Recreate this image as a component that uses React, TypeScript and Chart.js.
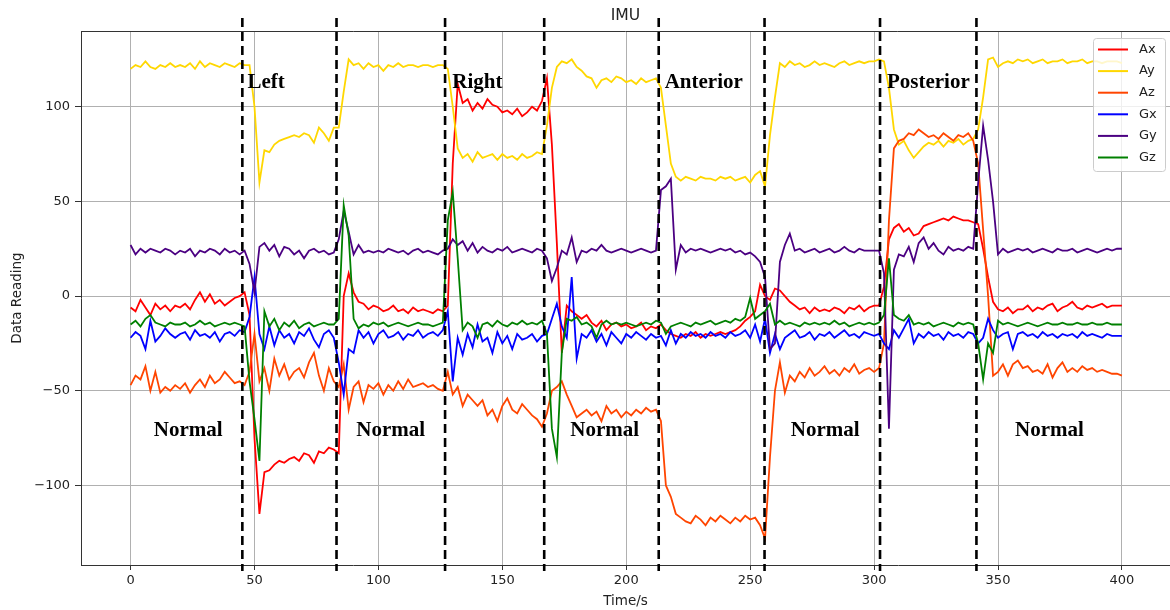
import React, { useEffect, useRef } from 'react';
import { Chart, registerables } from 'chart.js';

Chart.register(...registerables);

// sample grid: one sample every 2 s from 0 to 400 s
const times: number[] = [];
for (let i = 0; i <= 200; i++) times.push(i * 2);

const seriesNames = ['Ax', 'Ay', 'Az', 'Gx', 'Gy', 'Gz'];
const seriesColors = ['#ff0000', '#ffd700', '#ff4500', '#0000ff', '#4b0082', '#008000'];

const ax = [
  -6, -8, -2, -6, -10, -4, -7, -5, -8, -5,
  -6, -4, -7, -2, 2, -3, 1, -4, -2, -5,
  -3, -1, 0, 2, -10, -75, -115, -93, -92, -89,
  -87, -88, -86, -85, -87, -83, -84, -88, -82, -83,
  -80, -81, -83, 0, 12, 2, -3, -4, -7, -5,
  -6, -8, -7, -5, -8, -7, -9, -6, -8, -7,
  -8, -9, -7, -8, -5, 70, 112, 102, 104, 98,
  102, 99, 104, 101, 100, 97, 98, 96, 99, 95,
  97, 100, 98, 103, 115, 80, 28, -30, -5, -8,
  -10, -12, -10, -14, -16, -13, -18, -15, -14, -16,
  -15, -17, -16, -14, -18, -16, -17, -15, -18, -20,
  -21, -22, -20, -21, -19, -22, -20, -21, -20, -19,
  -20, -19, -18, -16, -13, -11, -8, 6, 0, -2,
  4, 3, 0, -3, -5, -7, -6, -9, -6, -8,
  -7, -8, -6, -7, -9, -6, -7, -5, -8, -6,
  -5, -5, 5, 30, 36, 38, 34, 36, 32, 33,
  37, 38, 39, 40, 41, 40, 42, 41, 40, 40,
  39, 38, 25, 10, -3, -7, -8, -6, -9, -7,
  -7, -5, -8, -6, -7, -5, -4, -8, -6, -5,
  -3, -6, -7, -5, -6, -5, -4, -6, -5, -5,
  -5,
];

const ay = [
  120, 122, 121, 124, 121, 120, 122, 121, 123, 121,
  122, 121, 123, 120, 124, 121, 123, 122, 121, 123,
  122, 121, 123, 122, 122, 100, 60, 77, 76, 80,
  82, 83, 84, 85, 84, 86, 85, 81, 89, 86,
  82, 89, 89, 108, 125, 122, 123, 120, 123, 121,
  122, 119, 122, 121, 123, 121, 122, 122, 121, 122,
  122, 121, 122, 122, 120, 100, 78, 73, 75, 71,
  76, 73, 74, 75, 72, 75, 73, 74, 72, 75,
  73, 74, 76, 75, 90, 110, 121, 124, 123, 125,
  121, 119, 116, 115, 110, 114, 115, 113, 116, 115,
  113, 114, 112, 115, 113, 114, 115, 110, 90, 70,
  63, 61, 63, 62, 61, 63, 62, 62, 61, 63,
  62, 63, 61, 62, 63, 60, 64, 66, 58, 85,
  105, 123, 121, 124, 122, 123, 121, 122, 124, 122,
  123, 122, 121, 123, 124, 122, 123, 124, 123, 124,
  124, 125, 124, 110, 88, 80, 82, 77, 73, 76,
  79, 81, 80, 82, 79, 82, 81, 83, 80, 82,
  83, 88, 105, 125, 126, 121, 123, 124, 123, 125,
  124, 125, 123, 124, 125, 123, 124, 124, 125, 123,
  124, 124, 125, 123, 124, 124, 123, 124, 124, 124,
  123,
];

const az = [
  -47, -42, -44, -37, -50, -40, -51, -48, -50, -47,
  -49, -46, -51, -47, -44, -48, -42, -46, -44, -40,
  -43, -46, -45, -47, -40, -20, -45, -38, -50, -33,
  -42, -36, -44, -40, -38, -43, -35, -30, -42, -50,
  -38, -45, -48, -36, -60, -48, -45, -56, -47, -49,
  -46, -52, -47, -50, -45, -49, -44, -48, -47, -46,
  -48, -47, -49, -50, -40, -52, -48, -58, -52, -55,
  -58, -55, -63, -60, -66, -58, -54, -60, -62, -57,
  -60, -63, -65, -69, -62, -50, -48, -45, -52, -58,
  -64, -62, -60, -63, -61, -66, -58, -62, -60, -64,
  -61, -63, -60, -62, -59, -61, -60, -66, -100, -106,
  -115, -117, -119, -120, -116, -118, -121, -117, -119, -116,
  -118, -120, -117, -119, -116, -118, -117, -121, -128, -85,
  -50, -35, -51, -42, -45, -40, -43, -38, -42, -40,
  -37, -41, -39, -42, -38, -40, -36, -41, -39, -38,
  -40, -38, -25, 40, 78, 82, 83, 86, 85, 88,
  86, 84, 85, 83, 86, 84, 82, 85, 84, 86,
  82, 70, 35, 0, -42, -40, -36, -42, -36, -34,
  -38, -37, -40, -39, -41, -36, -43, -38, -35, -40,
  -38, -40, -37, -39, -38, -40, -39, -40, -41, -41,
  -42,
];

const gx = [
  -22, -19, -21, -28, -13, -24, -21, -17, -20, -22,
  -20, -19, -23, -18, -21, -20, -22, -19, -24, -20,
  -19, -21, -18, -19, -11, 10, -20, -28, -16, -26,
  -18, -22, -20, -25, -19, -21, -17, -23, -27, -20,
  -18, -22, -35, -52, -28, -30, -18, -22, -19, -25,
  -20, -18, -22, -21, -19, -23, -20, -21, -18, -22,
  -20, -19, -21, -18, -8, -45, -22, -31, -20, -27,
  -15, -24, -22, -30, -19, -25, -21, -28, -20, -23,
  -22, -20, -24, -21, -20, -12, -4, -16, -22, 10,
  -33, -20, -22, -18, -24, -20, -26, -19, -22, -25,
  -20, -22, -19, -21, -23, -20, -22, -21, -26, -18,
  -25, -20, -22, -19, -21, -20, -22, -19, -21, -20,
  -22, -19, -21, -20, -18, -22, -15, -24, -12, -30,
  -20, -28, -22, -20, -18, -22, -21, -19, -23, -20,
  -21, -19, -22, -20, -18, -21, -20, -22, -19, -20,
  -21, -20, -25, -28, -18, -22, -17, -12, -25, -20,
  -22, -19, -21, -20, -23, -19, -21, -20, -22, -19,
  -20, -25, -22, -12, -18, -22, -20, -19, -28, -20,
  -19, -21, -20, -22, -19, -21, -20, -22, -20, -21,
  -20, -22, -19, -21, -20, -21, -22, -20, -21, -21,
  -21,
];

const gy = [
  27, 22, 25, 23, 25, 24, 23, 25, 24, 22,
  24, 23, 25, 21, 24, 23, 25, 24, 22, 25,
  23, 24, 22, 24, 17, 2, 26, 28, 24, 27,
  21, 26, 25, 22, 24, 20, 24, 25, 23, 24,
  22, 23, 30, 45, 34, 22, 27, 23, 24, 23,
  24, 23, 25, 24, 23, 24, 22, 24, 25, 23,
  24, 23, 22, 24, 25, 30, 27, 29, 24, 28,
  23, 26, 24, 23, 25, 24, 26, 23, 24, 25,
  24, 23, 25, 24, 20, 8, 15, 24, 22, 31,
  18, 24, 23, 25, 24, 27, 24, 23, 24, 25,
  24, 23, 24, 25, 24, 23, 24, 56, 58, 62,
  14, 27, 23, 25, 24, 25, 24, 23, 24, 25,
  24, 25, 23, 24, 22, 23, 21, 18, 10, -28,
  -25, 18, 27, 33, 24, 25, 23, 24, 25, 23,
  24, 25, 23, 24, 26, 24, 23, 25, 24, 24,
  24, 24, 12, -70, 14, 22, 21, 26, 18, 28,
  31, 25, 28, 24, 22, 26, 24, 25, 24, 26,
  25, 60, 90, 72, 50, 22, 25, 23, 24, 25,
  24, 25, 23, 24, 25, 24, 23, 25, 24, 24,
  25, 23, 24, 25, 24, 23, 24, 25, 24, 25,
  25,
];

const gz = [
  -15, -13, -16, -12, -10, -14, -15, -16, -14, -15,
  -15, -14, -16, -15, -13, -15, -14, -16, -15, -14,
  -15, -14, -15, -16, -45, -65, -87, -8, -16, -12,
  -18, -14, -16, -13, -17, -15, -14, -16, -15, -14,
  -15, -15, -12, 48, 32, -12, -17, -15, -16, -14,
  -15, -14, -16, -15, -14, -15, -16, -15, -14, -15,
  -15, -16, -15, -14, 40, 55, 20, -18, -14, -16,
  -22, -15, -14, -16, -13, -15, -16, -14, -15, -13,
  -15, -14, -15, -13, -20, -70, -85, -30, -12, -13,
  -11, -15, -14, -16, -22, -15, -13, -15, -14, -15,
  -14, -15, -16, -15, -14, -15, -13, -14, -20, -16,
  -15, -14, -15, -16, -14, -15, -14, -13, -15, -14,
  -13, -14, -12, -13, -11, -1, -12, -10, -8, -4,
  -15, -13, -15, -14, -15, -16, -14, -15, -14, -15,
  -14, -15, -13, -15, -14, -16, -15, -14, -15, -14,
  -15, -14, -10, 20, -10, -12, -13, -10, -15, -14,
  -15, -14, -16, -15, -14, -15, -16, -14, -15, -14,
  -15, -25, -44, -25, -30, -13, -15, -14, -15, -16,
  -15, -14, -15, -16, -15, -14, -15, -15, -14, -15,
  -15, -14, -15, -15, -14, -15, -15, -14, -15, -15,
  -15,
];

const seriesValues = [ax, ay, az, gx, gy, gz];

const xTicks = [0, 50, 100, 150, 200, 250, 300, 350, 400];
const yTicks = [-100, -50, 0, 50, 100];

// phase boundaries (s) marked by dashed lines
const phaseBoundaries = [45.1, 83.1, 126.9, 166.9, 213.1, 255.8, 302.4, 341.3];
// phase annotations: text, time (s), value
const phaseLabelText = ['Left', 'Right', 'Anterior', 'Posterior', 'Normal', 'Normal', 'Normal', 'Normal', 'Normal'];
const phaseLabelTime = [47.2, 129.8, 215.5, 305.2, 9.4, 91.1, 177.4, 266.4, 356.9];
const phaseLabelValue = [110, 110, 110, 110, -73.8, -73.8, -73.8, -73.8, -73.8];

const fmt = (v: number) => (v < 0 ? '\u2212' + Math.abs(v) : String(v));

const TICK_FONT = { family: "'DejaVu Sans', sans-serif", size: 13 };

const overlay = {
  id: 'overlay',
  afterDatasetsDraw(chart: any) {
    const { ctx, chartArea, scales } = chart;
    const { left, right, top, bottom } = chartArea;
    ctx.save();
    // top spine
    ctx.strokeStyle = '#333';
    ctx.lineWidth = 1;
    ctx.beginPath();
    ctx.moveTo(left, top + 0.5);
    ctx.lineTo(right, top + 0.5);
    ctx.stroke();

    // dashed phase boundaries
    ctx.strokeStyle = '#000';
    ctx.lineWidth = 2.6;
    ctx.setLineDash([9, 5]);
    phaseBoundaries.forEach((t) => {
      const x = scales.x.getPixelForValue(t);
      ctx.beginPath();
      ctx.moveTo(x, top - 13);
      ctx.lineTo(x, bottom + 6);
      ctx.stroke();
    });
    ctx.setLineDash([]);

    // phase labels
    ctx.fillStyle = '#000';
    ctx.font = "bold 21px 'Times New Roman', 'Liberation Serif', serif";
    ctx.textAlign = 'left';
    ctx.textBaseline = 'alphabetic';
    phaseLabelText.forEach((txt, i) => {
      ctx.fillText(txt, scales.x.getPixelForValue(phaseLabelTime[i]), scales.y.getPixelForValue(phaseLabelValue[i]));
    });

    // legend
    const bx = right - 77;
    const by = top + 7;
    const bw = 72;
    const bh = 133;
    ctx.fillStyle = 'rgba(255,255,255,0.8)';
    ctx.strokeStyle = '#cccccc';
    ctx.lineWidth = 1;
    ctx.beginPath();
    (ctx as any).roundRect(bx + 0.5, by + 0.5, bw, bh, 3);
    ctx.fill();
    ctx.stroke();
    ctx.font = "13px 'DejaVu Sans', sans-serif";
    ctx.textBaseline = 'middle';
    seriesNames.forEach((name, i) => {
      const yy = by + 11.5 + i * 21.6;
      ctx.strokeStyle = seriesColors[i];
      ctx.lineWidth = 2;
      ctx.beginPath();
      ctx.moveTo(bx + 5, yy);
      ctx.lineTo(bx + 35, yy);
      ctx.stroke();
      ctx.fillStyle = '#222';
      ctx.fillText(name, bx + 46, yy);
    });

    // title and axis titles
    ctx.fillStyle = '#222';
    ctx.textAlign = 'center';
    ctx.textBaseline = 'middle';
    ctx.font = "15.6px 'DejaVu Sans', sans-serif";
    ctx.fillText('IMU', (left + right) / 2, 16);
    ctx.font = "13.5px 'DejaVu Sans', sans-serif";
    ctx.fillText('Time/s', (left + right) / 2, 601);
    ctx.translate(17, (top + bottom) / 2);
    ctx.rotate(-Math.PI / 2);
    ctx.fillText('Data Reading', 0, 0);
    ctx.restore();
  },
};

export default function App() {
  const ref = useRef<HTMLCanvasElement | null>(null);
  useEffect(() => {
    if (!ref.current) return;
    const datasets = seriesNames.map((name, i) => ({
      label: name,
      data: times.map((t, j) => ({ x: t, y: seriesValues[i][j] })),
      borderColor: seriesColors[i],
      backgroundColor: seriesColors[i],
      borderWidth: 1.8,
      pointRadius: 0,
      tension: 0,
      fill: false,
      order: seriesNames.length - i,
    }));
    const chart = new Chart(ref.current, {
      type: 'line',
      data: { datasets },
      options: {
        animation: false,
        responsive: false,
        maintainAspectRatio: false,
        layout: { padding: { top: 31, left: 0, right: 0, bottom: 0 } },
        plugins: { legend: { display: false }, title: { display: false }, tooltip: { enabled: false } },
        scales: {
          x: {
            type: 'linear',
            min: -20,
            max: 419.4,
            afterBuildTicks: (s: any) => {
              s.ticks = xTicks.map((v) => ({ value: v }));
            },
            afterFit: (s: any) => {
              s.height = 45;
            },
            ticks: { font: TICK_FONT, color: '#222', padding: 3, maxRotation: 0, autoSkip: false, callback: (v: any) => fmt(Number(v)) },
            grid: { color: '#b0b0b0', lineWidth: 1, tickColor: '#333', tickLength: 5, drawTicks: true },
            border: { color: '#333', width: 1 },
          },
          y: {
            type: 'linear',
            min: -142,
            max: 140,
            afterBuildTicks: (s: any) => {
              s.ticks = yTicks.map((v) => ({ value: v }));
            },
            afterFit: (s: any) => {
              s.width = 81;
            },
            ticks: { font: TICK_FONT, color: '#222', padding: 5, autoSkip: false, callback: (v: any) => fmt(Number(v)) },
            grid: { color: '#b0b0b0', lineWidth: 1, tickColor: '#333', tickLength: 6, drawTicks: true },
            border: { color: '#333', width: 1 },
          },
        },
      },
      plugins: [overlay],
    } as any);
    return () => chart.destroy();
  }, []);
  return (
    <div style={{ position: 'absolute', left: 0, top: 0, width: 1170, height: 610, background: '#fff' }}>
      <canvas ref={ref} width={1170} height={610} style={{ width: 1170, height: 610 }} />
    </div>
  );
}
